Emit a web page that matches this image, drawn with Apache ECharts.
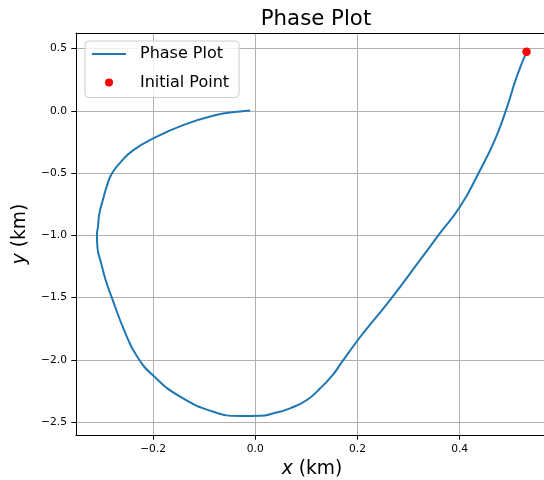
<!DOCTYPE html>
<html>
<head>
<meta charset="utf-8">
<script src="https://cdn.jsdelivr.net/npm/echarts@6/dist/echarts.min.js"></script>
<style>html,body{margin:0;padding:0;background:#fff;overflow:hidden;width:544px;height:480px}#c{width:548px;height:480px}</style>
</head>
<body>
<div id="c"></div>
<script>
// Trajectory (km), in time order starting from the initial point
const pathX = [0.531, 0.512, 0.491, 0.469, 0.437, 0.401, 0.359, 0.318, 0.264, 0.231, 0.202, 0.170, 0.150, 0.127, 0.101, 0.068, 0.036, 0.010, -0.030, -0.082, -0.147, -0.199, -0.232, -0.257, -0.280, -0.293, -0.302, -0.309, -0.310, -0.308, -0.305, -0.298, -0.291, -0.281, -0.263, -0.240, -0.200, -0.140, -0.075, -0.040, -0.010];
const pathY = [0.474, 0.276, 0.008, -0.233, -0.501, -0.769, -0.997, -1.224, -1.519, -1.686, -1.835, -2.015, -2.130, -2.229, -2.323, -2.390, -2.430, -2.450, -2.451, -2.417, -2.296, -2.130, -1.970, -1.760, -1.510, -1.359, -1.220, -1.100, -1.000, -0.930, -0.820, -0.710, -0.610, -0.505, -0.410, -0.320, -0.222, -0.113, -0.032, -0.010, 0.002];
const initX = [0.531];
const initY = [0.474];
const xTicks = [-0.2, 0.0, 0.2, 0.4];
const yTicks = [-2.5, -2.0, -1.5, -1.0, -0.5, 0.0, 0.5];
const titleText = 'Phase Plot';
const seriesNames = ['Phase Plot', 'Initial Point'];

const FONT = 'DejaVu Sans';
const X_MIN = -0.351, X_MAX = 0.573, Y_MIN = -2.604, Y_MAX = 0.625;
const fmt = v => (Math.round(v * 10) / 10).toFixed(1).replace('-', '\u2212');
const nameStyle = {fontFamily: FONT, fontSize: 18.7, color: '#000',
  rich: {i: {fontFamily: FONT, fontSize: 18.7, fontStyle: 'italic', color: '#000'},
         n: {fontFamily: FONT, fontSize: 18.7, color: '#000'}}};

const chart = echarts.init(document.getElementById('c'), null, {renderer: 'canvas', width: 548, height: 480});
chart.setOption({
  animation: false,
  backgroundColor: '#fff',
  title: {
    text: titleText,
    left: 311, top: 4, textAlign: 'center',
    textStyle: {fontFamily: FONT, fontSize: 21.3, fontWeight: 'normal', color: '#000'}
  },
  legend: {
    left: 85, top: 41,
    orient: 'vertical',
    itemWidth: 34, itemHeight: 8, itemGap: 12.5,
    padding: [5, 10, 7, 6],
    backgroundColor: 'rgba(255,255,255,0.8)',
    borderColor: '#cccccc', borderWidth: 1, borderRadius: 4,
    textStyle: {fontFamily: FONT, fontSize: 16, color: '#000', lineHeight: 16, padding: [0, 0, 0, 9]},
    data: [
      {name: seriesNames[0], itemStyle: {opacity: 0}},
      {name: seriesNames[1], icon: 'circle'}
    ]
  },
  grid: {
    left: 76, top: 33, right: 0, bottom: 45,
    outerBoundsMode: 'none', containLabel: false, show: false
  },
  xAxis: [{
    type: 'value', min: X_MIN, max: X_MAX, splitNumber: 5,
    name: '{i|x}{n| (km)}', nameLocation: 'middle', nameGap: 25,
    nameTextStyle: nameStyle,
    axisLine: {show: true, onZero: false, lineStyle: {color: '#000', width: 1}},
    axisTick: {show: true, inside: false, length: 4.7, lineStyle: {color: '#000', width: 1}, customValues: xTicks},
    axisLabel: {show: true, margin: 9, fontFamily: FONT, fontSize: 10.7, color: '#000', customValues: xTicks, formatter: fmt},
    splitLine: {show: true, lineStyle: {color: '#b0b0b0', width: 1}}
  }, {
    type: 'value', position: 'top', min: X_MIN, max: X_MAX,
    axisLine: {show: true, onZero: false, lineStyle: {color: '#000', width: 1}},
    axisTick: {show: false}, axisLabel: {show: false}, splitLine: {show: false}
  }],
  yAxis: {
    type: 'value', min: Y_MIN, max: Y_MAX, splitNumber: 7,
    name: '{i|y}{n| (km)}', nameLocation: 'middle', nameGap: 45, nameRotate: 90,
    nameTextStyle: nameStyle,
    axisLine: {show: true, onZero: false, lineStyle: {color: '#000', width: 1}},
    axisTick: {show: true, inside: false, length: 4.7, lineStyle: {color: '#000', width: 1}, customValues: yTicks},
    axisLabel: {show: true, margin: 9, fontFamily: FONT, fontSize: 10.7, color: '#000', customValues: yTicks, formatter: fmt},
    splitLine: {show: true, lineStyle: {color: '#b0b0b0', width: 1}}
  },
  series: [
    {
      name: seriesNames[0], type: 'line',
      data: pathX.map((x, i) => [x, pathY[i]]),
      symbol: 'none', smooth: 0.5,
      lineStyle: {color: '#1f77b4', width: 2},
      itemStyle: {color: '#1f77b4'},
      z: 2
    },
    {
      name: seriesNames[1], type: 'scatter',
      data: initX.map((x, i) => [x, initY[i]]),
      symbol: 'circle', symbolSize: 8.5,
      itemStyle: {color: '#ff0000', opacity: 1},
      z: 3
    }
  ]
});
</script>
</body>
</html>
